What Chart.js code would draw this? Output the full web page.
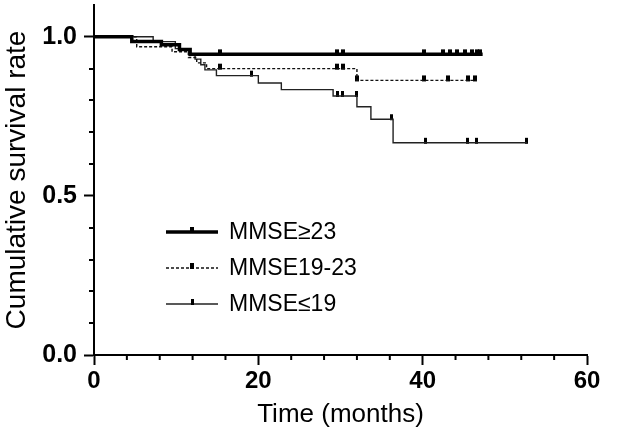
<!DOCTYPE html>
<html>
<head>
<meta charset="utf-8">
<script src="https://cdn.jsdelivr.net/npm/chart.js@4.4.4/dist/chart.umd.min.js"></script>
<style>
    html, body { margin: 0; padding: 0; background: #fff; }
    #wrap { width: 640px; height: 436px; }
</style>
</head>
<body>
<div id="wrap"><canvas id="km"></canvas></div>
<script>
// Kaplan-Meier steps: time (months) where survival changes, and the new level
const highTimes = [0, 4.6, 8.2, 10.4, 11.7, 47.3];
const highSurv = [1.0, 0.985, 0.975, 0.96, 0.945, 0.945];
const highCensor = [15.3, 29.6, 30.3, 40.2, 42.5, 43.3, 44.2, 45.2, 46.0, 46.6, 47.0];

const midTimes = [0, 5.2, 9.5, 11.5, 12.5, 13.7, 32.0, 46.6];
const midSurv = [1.0, 0.969, 0.953, 0.935, 0.918, 0.90, 0.863, 0.863];
const midCensor = [15.3, 29.6, 30.3, 32.0, 40.2, 43.1, 45.5, 46.4];

const lowTimes = [0, 7.2, 9.9, 11.5, 12.3, 13.0, 13.5, 14.9, 20.0, 22.8, 29.1, 32.0, 33.7, 36.4, 52.7];
const lowSurv = [1.0, 0.985, 0.963, 0.945, 0.93, 0.912, 0.896, 0.878, 0.855, 0.834, 0.814, 0.78, 0.741, 0.667, 0.667];
const lowCensor = [19.2, 29.6, 30.2, 31.9, 36.2, 40.3, 45.5, 46.5, 52.6];

const groupLabels = ['MMSE\u226523', 'MMSE19-23', 'MMSE\u226419'];

const xMajor = [0, 20, 40, 60];
const yMajor = [0, 0.5, 1.0];

function levelAt(times, surv, t) {
    let v = surv[0];
    for (let i = 0; i < times.length; i++) {
        if (times[i] <= t) v = surv[i];
    }
    return v;
}

function makeMark(w) {
    const c = document.createElement('canvas');
    c.width = w;
    c.height = 12;
    const g = c.getContext('2d');
    g.fillStyle = '#000';
    g.fillRect(0, 1, w, 6);
    return c;
}

const groups = [
    { label: groupLabels[0], times: highTimes, surv: highSurv, censor: highCensor, width: 3.5, dash: [], color: '#000', mark: makeMark(4) },
    { label: groupLabels[1], times: midTimes, surv: midSurv, censor: midCensor, width: 1.4, dash: [3, 2], color: '#111', mark: makeMark(4) },
    { label: groupLabels[2], times: lowTimes, surv: lowSurv, censor: lowCensor, width: 1.4, dash: [], color: '#222', mark: makeMark(3) }
];

const datasets = [];
groups.forEach(g => {
    datasets.push({
        label: g.label,
        data: g.times.map((t, i) => ({ x: t, y: g.surv[i] })),
        showLine: true,
        stepped: true,
        borderColor: g.color,
        borderWidth: g.width,
        borderDash: g.dash,
        pointRadius: 0
    });
    datasets.push({
        label: g.label + ' censored',
        data: g.censor.map(t => ({ x: t, y: levelAt(g.times, g.surv, t) })),
        showLine: false,
        pointStyle: g.mark,
        pointRadius: 4
    });
});

// minor ticks are shorter than the majors, so they are drawn here
const minorTicks = {
    id: 'minorTicks',
    afterDraw(chart) {
        const { ctx, scales: { x, y } } = chart;
        ctx.save();
        ctx.strokeStyle = '#000';
        ctx.lineWidth = 2;
        ctx.beginPath();
        for (let m = 4; m < 60; m += 4) {
            if (xMajor.includes(m)) continue;
            const px = x.getPixelForValue(m);
            ctx.moveTo(px, y.bottom);
            ctx.lineTo(px, y.bottom + 5);
        }
        for (let k = 1; k < 10; k++) {
            if (k === 5) continue;
            const py = Math.round(y.getPixelForValue(k / 10));
            ctx.moveTo(x.left, py);
            ctx.lineTo(x.left - 5, py);
        }
        ctx.stroke();
        ctx.restore();
    }
};

const kmLegend = {
    id: 'kmLegend',
    afterDraw(chart) {
        const { ctx } = chart;
        const rows = [232, 268, 304];
        ctx.save();
        groups.forEach((g, i) => {
            const yy = rows[i];
            ctx.strokeStyle = g.color;
            ctx.lineWidth = g.width;
            ctx.setLineDash(g.dash);
            ctx.beginPath();
            ctx.moveTo(166, yy);
            ctx.lineTo(218, yy);
            ctx.stroke();
            ctx.setLineDash([]);
            ctx.drawImage(g.mark, 192 - g.mark.width / 2, yy - 6);
            ctx.fillStyle = '#000';
            ctx.font = '23px "Liberation Sans", Arial, sans-serif';
            ctx.textBaseline = 'middle';
            ctx.fillText(g.label, 229, yy + 1);
        });
        ctx.restore();
    }
};

new Chart(document.getElementById('km'), {
    type: 'scatter',
    data: { datasets },
    options: {
        responsive: true,
        maintainAspectRatio: false,
        animation: false,
        layout: { padding: { top: 2, right: 53, left: 0, bottom: 0 } },
        plugins: { legend: { display: false }, tooltip: { enabled: false } },
        scales: {
            x: {
                type: 'linear',
                min: 0,
                max: 60,
                afterBuildTicks: s => { s.ticks = xMajor.map(v => ({ value: v })); },
                afterFit: s => { s.height = 81; },
                ticks: {
                    autoSkip: false,
                    maxRotation: 0,
                    color: '#000',
                    padding: 2,
                    font: { family: '"Liberation Sans", Arial, sans-serif', size: 24, weight: 'bold' }
                },
                grid: { drawOnChartArea: false, tickLength: 10, tickWidth: 2, tickColor: '#000' },
                border: { display: true, color: '#000', width: 2 },
                title: {
                    display: true,
                    text: 'Time (months)',
                    color: '#000',
                    padding: { top: 0, bottom: 6 },
                    font: { family: '"Liberation Sans", Arial, sans-serif', size: 26 }
                }
            },
            y: {
                type: 'linear',
                min: 0,
                max: 1.1,
                afterBuildTicks: s => { s.ticks = yMajor.map(v => ({ value: v })); },
                afterFit: s => { s.width = 94; s.paddingTop = 0; s.paddingBottom = 0; },
                ticks: {
                    autoSkip: false,
                    color: '#000',
                    padding: 7,
                    callback: v => v.toFixed(1),
                    font: { family: '"Liberation Sans", Arial, sans-serif', size: 25, weight: 'bold' }
                },
                grid: { drawOnChartArea: false, tickLength: 10, tickWidth: 2, tickColor: '#000' },
                border: { display: true, color: '#000', width: 2 },
                title: {
                    display: true,
                    text: 'Cumulative survival rate',
                    color: '#000',
                    padding: { top: 0, bottom: 0 },
                    font: { family: '"Liberation Sans", Arial, sans-serif', size: 28 }
                }
            }
        }
    },
    plugins: [minorTicks, kmLegend]
});
</script>
</body>
</html>
